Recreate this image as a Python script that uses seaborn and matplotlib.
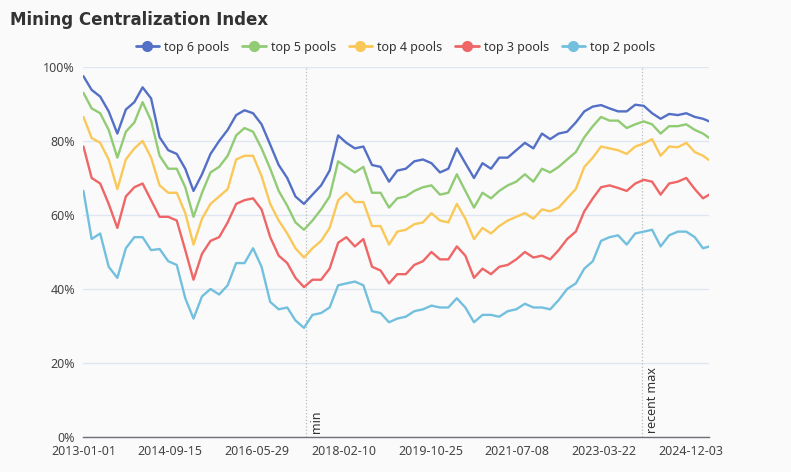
import pandas as pd
import matplotlib.pyplot as plt
from matplotlib.lines import Line2D
from matplotlib.ticker import FuncFormatter
import seaborn as sns

# one point every two months, last point = end of the data range
dates = list(pd.date_range('2013-01-01', periods=74, freq='2MS')) + [pd.Timestamp('2025-04-15')]

top6 = [97.5, 93.8, 92, 88, 82, 88.5, 90.5, 94.5, 91.5, 81, 77.5, 76.5, 72.5, 66.5, 71, 76.5, 80, 83, 87,
        88.3, 87.5, 84.5, 79, 73.5, 70, 65, 63, 65.5, 68, 72, 81.5, 79.5, 78, 78.5, 73.5, 73, 69, 72,
        72.5, 74.5, 75, 74, 71.5, 72.5, 78, 74, 70, 74, 72.5, 75.5, 75.5, 77.5, 79.5, 78, 82, 80.5, 82,
        82.5, 85, 88, 89.3, 89.7, 88.8, 88, 88, 89.8, 89.5, 87.5, 86, 87.3, 87, 87.5, 86.5, 86, 85.3]
top5 = [93, 88.8, 87.5, 83, 75.5, 82.5, 85, 90.5, 85.5, 76, 72.5, 72.5, 67.5, 59.5, 66, 71.5, 73, 76, 81.5,
        83.5, 82.5, 78, 72.5, 66.5, 62.5, 58, 56, 58.5, 61.5, 65, 74.5, 73, 71.5, 73, 66, 66, 62, 64.5,
        65, 66.5, 67.5, 68, 65.5, 66, 71, 66.5, 62, 66, 64.5, 66.5, 68, 69, 71, 69, 72.5, 71.5, 73,
        75, 77, 81, 84, 86.5, 85.5, 85.5, 83.5, 84.5, 85.3, 84.5, 82, 84, 84, 84.5, 83, 82, 80.8]
top4 = [86.5, 80.8, 79.5, 75, 67, 75, 78, 80, 75.5, 68, 66, 66, 60.5, 52, 59, 63, 65, 67, 75,
        76, 76, 70.5, 63, 58.5, 55, 51, 48.5, 51, 53, 56.5, 64, 66, 63.5, 63.5, 57, 57, 52, 55.5,
        56, 57.5, 58, 60.5, 58.5, 58, 63, 59, 53.5, 56.5, 55, 57, 58.5, 59.5, 60.5, 59, 61.5, 61, 62,
        64.5, 67, 73, 75.5, 78.5, 78, 77.5, 76.5, 78.5, 79.3, 80.5, 76, 78.5, 78.3, 79.5, 77, 76, 74.8]
top3 = [78.5, 70, 68.5, 63, 56.5, 65, 67.5, 68.5, 64, 59.5, 59.5, 58.5, 50.5, 42.5, 49.5, 53, 54, 58, 63,
        64, 64.5, 61.5, 54, 49, 47, 43, 40.5, 42.5, 42.5, 45.5, 52.5, 54, 51.5, 53.5, 46, 45, 41.5, 44,
        44, 46.5, 47.5, 50, 48, 48, 51.5, 49, 43, 45.5, 44, 46, 46.5, 48, 50, 48.5, 49, 48, 50.5,
        53.5, 55.5, 61, 64.5, 67.5, 68, 67.3, 66.5, 68.5, 69.5, 69, 65.5, 68.5, 69, 70, 67, 64.5, 65.5]
top2 = [66.5, 53.5, 55, 46, 43, 51, 54, 54, 50.5, 50.8, 47.5, 46.5, 37.5, 32, 38, 40, 38.5, 41, 47,
        47, 51, 46, 36.5, 34.5, 35, 31.5, 29.5, 33, 33.5, 35, 41, 41.5, 42, 41, 34, 33.5, 31, 32,
        32.5, 34, 34.5, 35.5, 35, 35, 37.5, 35, 31, 33, 33, 32.5, 34, 34.5, 36, 35, 35, 34.5, 37,
        40, 41.5, 45.5, 47.5, 53, 54, 54.5, 52, 55, 55.5, 56, 51.5, 54.5, 55.5, 55.5, 54, 51, 51.5]

series_names = ['top 6 pools', 'top 5 pools', 'top 4 pools', 'top 3 pools', 'top 2 pools']
colors = ['#5470c6', '#91cc75', '#fac858', '#ee6666', '#73c0de']
tick_dates = ['2013-01-01', '2014-09-15', '2016-05-29', '2018-02-10',
              '2019-10-25', '2021-07-08', '2023-03-22', '2024-12-03']
mark_names = ['min', 'recent max']
mark_dates = ['2017-05-17', '2023-12-16']

df = pd.DataFrame({'date': dates, 'top 6 pools': top6, 'top 5 pools': top5,
                   'top 4 pools': top4, 'top 3 pools': top3, 'top 2 pools': top2})
df = df.melt(id_vars='date', var_name='series', value_name='share')

sns.set_theme(style='white')
plt.rcParams['font.family'] = ['Noto Sans', 'DejaVu Sans']
bg = '#fafafa'
axis_col = '#6e7079'

fig = plt.figure(figsize=(7.91, 4.72), dpi=100, facecolor=bg)
ax = fig.add_axes([0.1055, 0.0742, 0.7912, 0.7839], facecolor=bg)

sns.lineplot(data=df, x='date', y='share', hue='series', hue_order=series_names,
             palette=colors, linewidth=1.7, legend=False, ax=ax)

ax.set_xlim(dates[0], dates[-1])
ax.set_ylim(0, 100)
ax.set_yticks(range(0, 101, 20))
ax.yaxis.set_major_formatter(FuncFormatter(lambda v, p: '%d%%' % v))
ax.set_xticks(pd.to_datetime(tick_dates))
ax.set_xticklabels(tick_dates)
ax.yaxis.grid(True, color='#e0e6f1', linewidth=1)
ax.xaxis.grid(False)
ax.set_axisbelow(True)
for s in ['top', 'right', 'left']:
    ax.spines[s].set_visible(False)
ax.spines['bottom'].set_color(axis_col)
ax.spines['bottom'].set_linewidth(1)
ax.tick_params(axis='x', length=4, width=1, color=axis_col, labelcolor='#444', labelsize=9, pad=2)
ax.tick_params(axis='y', length=0, labelcolor='#444', labelsize=9, pad=6)
ax.set_xlabel('')
ax.set_ylabel('')

# mark lines
for name, d in zip(mark_names, mark_dates):
    d = pd.Timestamp(d)
    ax.axvline(d, color='#bbbbbb', linestyle=':', linewidth=0.9, zorder=1)
    ax.annotate(name, xy=(d, 0), xycoords=('data', 'axes fraction'), xytext=(3, 3),
                textcoords='offset points', rotation=90, ha='left', va='bottom',
                fontsize=9, color='#333')

fig.text(10 / 791, 1 - 20 / 472, 'Mining Centralization Index', fontsize=12,
         fontweight='bold', family='DejaVu Sans', color='#333', va='center', ha='left')

handles = [Line2D([0], [0], color=c, linewidth=2, marker='o', markersize=7) for c in colors]
fig.legend(handles, series_names, loc='center', bbox_to_anchor=(0.5, 1 - 47 / 472), ncol=5,
           frameon=False, fontsize=9, handlelength=1.9, handletextpad=0.4, columnspacing=1.0,
           labelcolor='#333')

fig.savefig('out.png', dpi=100, facecolor=bg)
